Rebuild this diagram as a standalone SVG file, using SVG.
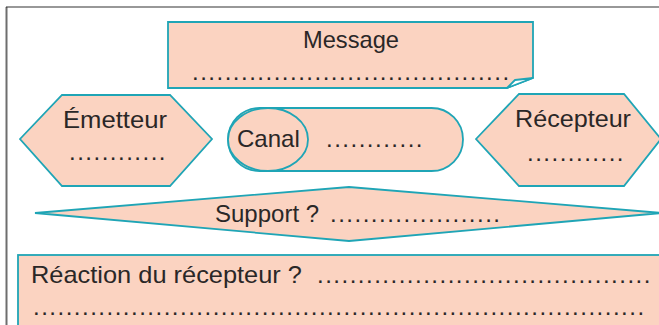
<svg xmlns="http://www.w3.org/2000/svg" width="659" height="325" viewBox="0 0 659 325">
  <style>
    .shape { fill: #fbd3c1; stroke: #1fa5b6; stroke-width: 1.8; stroke-linejoin: miter; }
    .t { font-family: "Liberation Sans", Arial, sans-serif; font-size: 24px; fill: #2a2727; }
    .d { letter-spacing: 1.5px; }
  </style>
  <rect width="659" height="325" fill="#ffffff"/>
  <g id="frame">
    <line x1="6.5" y1="7" x2="6.5" y2="325" stroke="#6e6e6e" stroke-width="2"/>
    <line x1="6" y1="7" x2="659" y2="7" stroke="#333333" stroke-width="1.2"/>
  </g>
  <g id="message">
    <path class="shape" d="M168,22 H533 V78 L507,88 H168 Z"/>
    <path d="M507,88 L515,80 L533,78 Z" fill="#ffffff" stroke="#1fa5b6" stroke-width="1.8" stroke-linejoin="round"/>
    <text class="t" x="303" y="48" textLength="96" lengthAdjust="spacingAndGlyphs">Message</text>
    <text class="t d" x="192" y="80">.......................................</text>
  </g>
  <g id="emetteur">
    <polygon class="shape" points="20,139 62,95 170,95 212,139 170,186 62,186"/>
    <text class="t" x="63" y="128" textLength="104" lengthAdjust="spacingAndGlyphs">Émetteur</text>
    <text class="t d" x="69" y="160">............</text>
  </g>
  <g id="canal">
    <rect class="shape" x="228" y="108" width="235" height="63" rx="31.5" ry="31.5"/>
    <ellipse class="shape" cx="268" cy="139.5" rx="40" ry="31.5"/>
    <text class="t" x="237" y="147">Canal</text>
    <text class="t d" x="326" y="147">............</text>
  </g>
  <g id="recepteur">
    <polygon class="shape" points="476,139 519,94 624,94 661,139 624,186 519,186"/>
    <text class="t" x="515" y="127" textLength="116" lengthAdjust="spacingAndGlyphs">Récepteur</text>
    <text class="t d" x="527" y="161">............</text>
  </g>
  <g id="support">
    <polygon class="shape" points="35,213 349,187 662,213 349,241"/>
    <text class="t" x="215" y="222">Support ?<tspan class="d" x="330">.....................</tspan></text>
  </g>
  <g id="reaction">
    <rect class="shape" x="18" y="255" width="660" height="90"/>
    <text class="t" x="31" y="283" textLength="271" lengthAdjust="spacingAndGlyphs">Réaction du récepteur ?</text>
    <text class="t d" x="317" y="283">.........................................</text>
    <text class="t d" x="33" y="315">...........................................................................</text>
  </g>
</svg>
